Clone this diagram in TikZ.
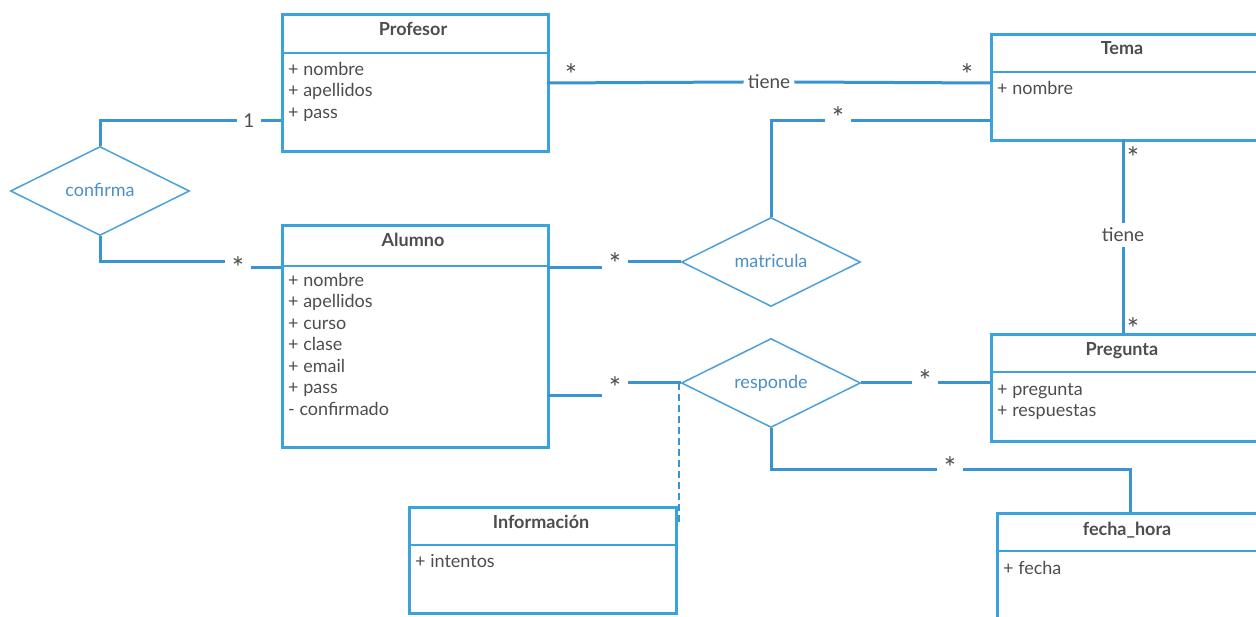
\documentclass[tikz,border=0pt]{standalone}
\usepackage{fontspec}
\setmainfont{Lato}
\usetikzlibrary{shapes.geometric}
\definecolor{boxblue}{HTML}{3AA2DD}
\definecolor{lineblue}{HTML}{3A94CF}
\definecolor{relblue}{HTML}{4AA0DA}
\definecolor{txt}{HTML}{4D4D4D}
\definecolor{dtxt}{HTML}{4A8FC7}
\begin{document}
\begin{tikzpicture}[x=1pt,y=-1pt,
  box/.style={draw=boxblue, line width=2.8pt, anchor=north west, inner sep=0pt},
  divider/.style={draw=boxblue, line width=2.8pt},
  title/.style={font=\fontsize{18}{21}\selectfont\bfseries, text=txt, text height=13pt, text depth=0pt, inner sep=0pt},
  attr/.style={font=\fontsize{18}{21.5}\selectfont, text=txt, align=left, anchor=north west, inner sep=0pt},
  rel/.style={diamond, draw=relblue, line width=1.5pt, aspect=2, minimum width=179pt, minimum height=89pt, inner sep=0pt, text=dtxt, font=\fontsize{18}{21}\selectfont, text height=12pt, text depth=0pt},
  conn/.style={draw=lineblue, line width=3pt},
  dashconn/.style={draw=lineblue, line width=2.5pt, dash pattern=on 7pt off 4pt},
  mult/.style={fill=white, text=txt, font=\fontsize{29}{30}\selectfont, inner xsep=7pt, inner ysep=2pt},
  plain/.style={text=txt, font=\fontsize{29}{30}\selectfont, inner sep=0pt},
  lbl/.style={fill=white, text=txt, font=\fontsize{19}{21}\selectfont, inner ysep=3pt},
]
\newcommand{\fstrut}{\rule{0pt}{13pt}}
\useasboundingbox (0,0) rectangle (1256,617);
\clip (0,0) rectangle (1256,617);

% ---------- classes ----------
\node[box, minimum width=266pt, minimum height=137pt] (prof) at (281,13) {};
\draw[divider] (281,53) -- (547,53);
\node[title] (proft) at (413,29.5) {Profesor};
\node[attr] (profa) at (288,62) {\fstrut+ nombre\\+ apellidos\\+ pass};

\node[box, minimum width=266pt, minimum height=106pt] (tema) at (990,33) {};
\draw[divider] (990,72) -- (1256,72);
\node[title] (temat) at (1122,48.5) {Tema};
\node[attr] (temaa) at (997,81) {\fstrut+ nombre};

\node[box, minimum width=266pt, minimum height=222pt] (alum) at (281,224) {};
\draw[divider] (281,266) -- (547,266);
\node[title] (alumt) at (413,240.5) {Alumno};
\node[attr] (aluma) at (288,273) {\fstrut+ nombre\\+ apellidos\\+ curso\\+ clase\\+ email\\+ pass\\- confirmado};

\node[box, minimum width=266pt, minimum height=107pt] (preg) at (990,333) {};
\draw[divider] (990,372) -- (1256,372);
\node[title] (pregt) at (1122,349.5) {Pregunta};
\node[attr] (prega) at (997,382) {\fstrut+ pregunta\\+ respuestas};

\node[box, minimum width=267pt, minimum height=106pt] (info) at (408,506) {};
\draw[divider] (408,545) -- (675,545);
\node[title] (infot) at (541,521.5) {Información};
\node[attr] (infoa) at (415,554) {\fstrut+ intentos};

\node[box, minimum width=264pt, minimum height=115pt] (fecha) at (996,512) {};
\draw[divider] (996,551) -- (1260,551);
\node[title] (fechat) at (1127,528.5) {fecha\_hora};
\node[attr] (fechaa) at (1003,561) {\fstrut+ fecha};

% ---------- relationships ----------
\node[rel] (confirma) at (100,191) {confirma};
\node[rel] (matricula) at (771,262) {matricula};
\node[rel] (responde) at (771,383) {responde};

% ---------- anchor points on boxes ----------
\coordinate (pL) at (281,121);
\coordinate (pR) at (547,83);
\coordinate (tL1) at (990,83);
\coordinate (tL2) at (990,121);
\coordinate (tB) at (1123,139);
\coordinate (gT) at (1123,333);
\coordinate (aL) at (281,268);
\coordinate (aR1) at (547,268);
\coordinate (aR2) at (547,396);
\coordinate (gL) at (990,383);
\coordinate (fT) at (1130,512);
\coordinate (dC) at (679,523);
\coordinate (rB) at (771,469);

% ---------- labels ----------
\node[lbl, inner xsep=6pt] (m1) at (249,121) {1};
\node[mult] (m2) at (238,268) {*};
\node[lbl, inner xsep=4pt] (t1) at (769,82) {tiene};
\node[plain] (m3) at (571,75) {*};
\node[plain] (m4) at (967,75) {*};
\node[mult] (m5) at (838,118) {*};
\node[mult] (m6) at (615,264) {*};
\node[mult] (m7) at (615,388) {*};
\node[mult] (m8) at (925,381) {*};
\node[mult] (m9) at (950,468) {*};
\node[plain] (m10) at (1133,158) {*};
\node[plain] (m11) at (1133,329) {*};

% ---------- connectors ----------
\draw[conn] (pL) -- (m1.east);
\draw[conn] (m1.west) -| (confirma.north);
\draw[conn] (confirma.south) |- (m2.west |- 0,262);
\draw[conn] (m2.east |- aL) -- (aL);

\draw[conn] (pR) -- (t1.west);
\draw[conn] (t1.east) -- (tL1);

\draw[conn] (matricula.north) |- (m5.west |- tL2);
\draw[conn] (m5.east |- tL2) -- (tL2);

\draw[conn] (aR1) -- (aR1 -| m6.west);
\draw[conn] (m6.east |- matricula.west) -- (matricula.west);

\draw[conn] (aR2) -- (aR2 -| m7.west);
\draw[conn] (m7.east |- responde.west) -- (responde.west);

\draw[conn] (responde.east) -- (responde.east -| m8.west);
\draw[conn] (m8.east |- gL) -- (gL);

\draw[conn] (responde.south) -- (rB) -- (rB -| m9.west);
\draw[conn] (rB -| m9.east) -| (fT);

\draw[dashconn] (dC |- responde.west) -- (dC) -- (dC -| info.east);

\node[lbl, inner xsep=3pt, inner ysep=5pt] (t2) at (1123,235) {tiene};
\draw[conn] (tB) -- (t2.north);
\draw[conn] (t2.south) -- (gT);
\end{tikzpicture}
\end{document}
